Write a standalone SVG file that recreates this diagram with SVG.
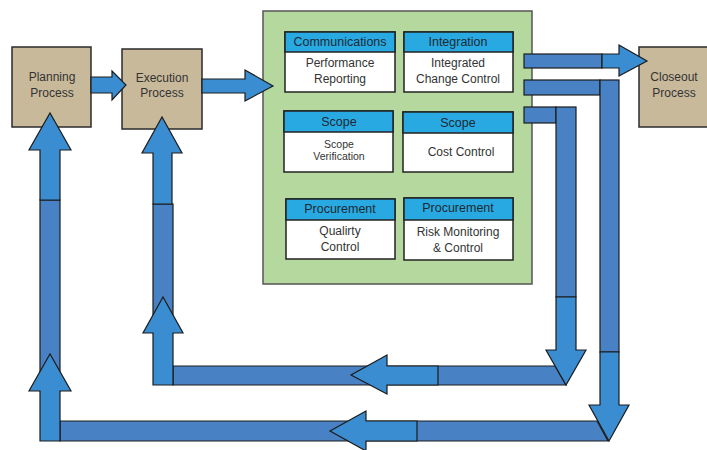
<svg xmlns="http://www.w3.org/2000/svg" width="707" height="450" viewBox="0 0 707 450">
  <style>
    .proc { fill: #c9b99b; stroke: #2b2b2b; stroke-width: 1.5; }
    .panel { fill: #b4d89e; stroke: #555; stroke-width: 1.5; }
    .card { fill: #ffffff; stroke: #222; stroke-width: 1.5; }
    .head { fill: #29a9e1; stroke: #222; stroke-width: 1.5; }
    .bar { fill: #4882c4; stroke: #1c1c1c; stroke-width: 1.2; stroke-linejoin: miter; }
    .arr { fill: #3a8dd0; stroke: #1c1c1c; stroke-width: 1.2; stroke-linejoin: miter; }
    text { font-family: "Liberation Sans", Arial, sans-serif; fill: #333; text-anchor: middle; }
    .t { font-size: 12px; }
    .h { font-size: 12.5px; fill: #1e2a33; }
    .s { font-size: 10.5px; }
  </style>

  <!-- process boxes -->
  <g id="planning">
    <rect class="proc" x="12" y="47" width="79" height="80"/>
    <text class="t" x="52" y="81">Planning</text>
    <text class="t" x="52" y="97">Process</text>
  </g>
  <g id="execution">
    <rect class="proc" x="122" y="49" width="80" height="80"/>
    <text class="t" x="162" y="82">Execution</text>
    <text class="t" x="162" y="97">Process</text>
  </g>
  <g id="closeout">
    <rect class="proc" x="639" y="47" width="80" height="80"/>
    <text class="t" x="674" y="81">Closeout</text>
    <text class="t" x="674" y="97">Process</text>
  </g>

  <!-- monitoring & controlling panel -->
  <g id="control-panel">
    <rect class="panel" x="263" y="11" width="269" height="273"/>
  </g>
  <g id="communications">
    <rect class="card" x="285" y="32" width="110" height="60"/>
    <rect class="head" x="285" y="32" width="110" height="20"/>
    <text class="h" x="340" y="46">Communications</text>
    <text class="t" x="340" y="67">Performance</text>
    <text class="t" x="340" y="83">Reporting</text>
  </g>
  <g id="integration">
    <rect class="card" x="404" y="32" width="109" height="60"/>
    <rect class="head" x="404" y="32" width="109" height="20"/>
    <text class="h" x="458" y="46">Integration</text>
    <text class="t" x="458" y="67">Integrated</text>
    <text class="t" x="458" y="83">Change Control</text>
  </g>
  <g id="scope-verification">
    <rect class="card" x="284" y="111" width="109" height="61"/>
    <rect class="head" x="284" y="111" width="109" height="21"/>
    <text class="h" x="339" y="126">Scope</text>
    <text class="s" x="339" y="148">Scope</text>
    <text class="s" x="339" y="160">Verification</text>
  </g>
  <g id="cost-control">
    <rect class="card" x="403" y="112" width="110" height="60"/>
    <rect class="head" x="403" y="112" width="110" height="21"/>
    <text class="h" x="458" y="127">Scope</text>
    <text class="t" x="461" y="156">Cost Control</text>
  </g>
  <g id="quality-control">
    <rect class="card" x="286" y="199" width="109" height="60"/>
    <rect class="head" x="286" y="199" width="109" height="21"/>
    <text class="h" x="340" y="213">Procurement</text>
    <text class="t" x="340" y="235">Qualirty</text>
    <text class="t" x="340" y="251">Control</text>
  </g>
  <g id="risk-monitoring">
    <rect class="card" x="404" y="198" width="109" height="62"/>
    <rect class="head" x="404" y="198" width="109" height="22"/>
    <text class="h" x="458" y="212">Procurement</text>
    <text class="t" x="458" y="236">Risk Monitoring</text>
    <text class="t" x="458" y="252">&amp; Control</text>
  </g>

  <!-- block-arrow connectors -->
  <g id="connectors">
    <!-- planning -> execution -> panel -->
    <polygon class="arr" points="91,77 112,77 112,71 126,85 112,100 112,93 91,93"/>
    <polygon class="arr" points="202,79 245,79 245,70 273,86 245,101 245,93 202,93"/>

    <!-- panel -> closeout -->
    <rect class="bar" x="524" y="54" width="78" height="14"/>
    <polygon class="arr" points="602,54 619,54 619,45 647,61 619,76 619,68 602,68"/>

    <!-- outer loop: panel -> planning -->
    <rect class="bar" x="524" y="80" width="76" height="15"/>
    <rect class="bar" x="600" y="80" width="19" height="272"/>
    <polygon class="bar" points="60,421 597,421 608,441 60,441"/>
    <polygon class="arr" points="600,352 619,352 619,405 629,405 609,441 589,405 600,405"/>
    <polygon class="arr" points="417,421 417,441 366,441 366,451 330,431 366,411 366,421"/>
    <rect class="bar" x="40" y="200" width="20" height="191"/>
    <polygon class="arr" points="40,441 40,391 29,391 50,354 71,391 60,391 60,441"/>
    <polygon class="arr" points="40,200 40,150 29,150 50,113 71,150 60,150 60,200"/>

    <!-- inner loop: panel -> execution -->
    <rect class="bar" x="524" y="107" width="32" height="16"/>
    <rect class="bar" x="556" y="107" width="20" height="190"/>
    <polygon class="bar" points="173,366 555,366 566,385 173,385"/>
    <polygon class="arr" points="556,297 576,297 576,350 586,350 566,385 546,350 556,350"/>
    <polygon class="arr" points="438,366 438,385 387,385 387,394 351,375 387,355 387,366"/>
    <rect class="bar" x="153" y="204" width="20" height="129"/>
    <polygon class="arr" points="153,385 153,333 143,333 163,297 183,333 173,333 173,385"/>
    <polygon class="arr" points="153,204 153,153 142,153 162,117 182,153 172,153 172,204"/>
  </g>
</svg>
